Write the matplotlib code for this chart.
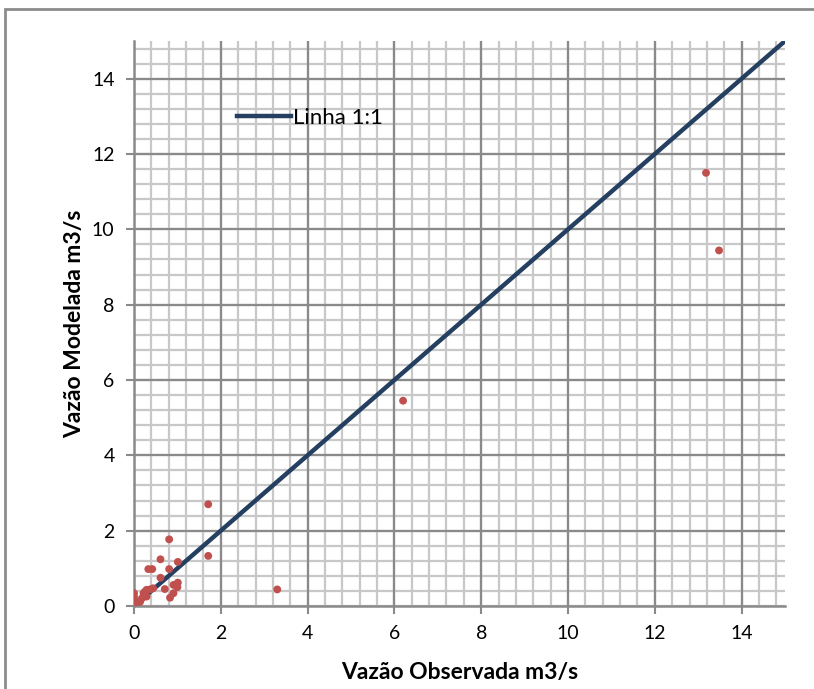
import matplotlib
matplotlib.use("Agg")
import matplotlib.pyplot as plt
import numpy as np
from matplotlib.patches import Rectangle

obs = [13.18, 13.48, 6.2, 3.30, 1.71, 1.71, 0.81, 0.61, 1.01, 0.33, 0.42, 0.81,
       0.61, 1.01, 0.91, 1.00, 0.71, 0.91, 0.83, 0.00, 0.00, 0.00, 0.06, 0.14,
       0.22, 0.29, 0.37, 0.44, 0.18, 0.29, 0.25, 0.02]
mod = [11.50, 9.44, 5.45, 0.44, 2.70, 1.33, 1.77, 1.24, 1.17, 0.98, 0.98, 0.98,
       0.75, 0.62, 0.56, 0.50, 0.45, 0.34, 0.22, 0.34, 0.25, 0.16, 0.11, 0.11,
       0.34, 0.43, 0.44, 0.47, 0.20, 0.25, 0.38, 0.05]
line_x = [0, 15]
line_y = [0, 15]
major_ticks = [0, 2, 4, 6, 8, 10, 12, 14]

plt.rcParams['font.family'] = ['Lato', 'DejaVu Sans']

fig = plt.figure(figsize=(8.14, 6.89), dpi=100)
fig.patches.append(Rectangle((5/814, -0.05), 1.1, 1 - 9/689 + 0.05, transform=fig.transFigure,
                             fill=False, edgecolor='#8c8c8c', linewidth=2))
ax = fig.add_axes([134/814, 83/689, 651/814, 565/689])

minor = np.arange(0, 15.01, 0.4)
for v in minor:
    ax.axvline(v, color='#c8c8c8', lw=1.6, zorder=0)
    ax.axhline(v, color='#c8c8c8', lw=1.6, zorder=0)
for v in major_ticks[1:]:
    ax.axvline(v, color='#8a8a8a', lw=1.6, zorder=0.5)
    ax.axhline(v, color='#8a8a8a', lw=1.6, zorder=0.5)

ax.plot(line_x, line_y, color='#243F60', lw=3.2, label='Linha 1:1', zorder=2)
ax.scatter(obs, mod, s=32, color='#C0504D', zorder=3, edgecolors='none')

ax.set_xlim(0, 15)
ax.set_ylim(0, 15)
ax.set_xticks(major_ticks)
ax.set_yticks(major_ticks)
ax.tick_params(axis='both', labelsize=14, length=6, width=1.5, color='#8a8a8a', pad=8)
for s in ['top', 'right']:
    ax.spines[s].set_visible(False)
for s in ['left', 'bottom']:
    ax.spines[s].set_color('#8a8a8a')
    ax.spines[s].set_linewidth(1.8)

ax.set_xlabel('Vazão Observada m3/s', fontsize=16.5, fontweight='bold', labelpad=14)
ax.set_ylabel('Vazão Modelada m3/s', fontsize=16.5, fontweight='bold', labelpad=5)

leg = ax.legend(loc='upper left', bbox_to_anchor=(0.128, 0.917), frameon=False,
                fontsize=16, handlelength=2.4, handletextpad=0.1)

fig.savefig('out.png', dpi=100)
